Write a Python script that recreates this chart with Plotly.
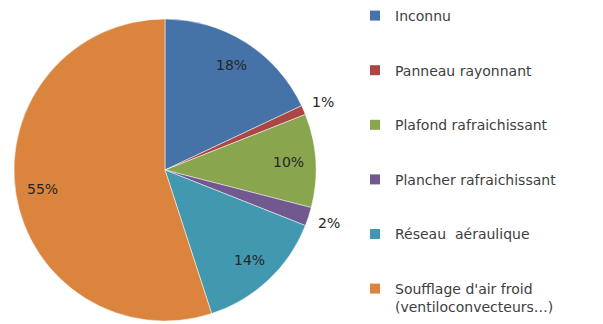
import math
import plotly.graph_objects as go

# Répartition des systèmes de rafraîchissement
categories = [
    "Inconnu",
    "Panneau rayonnant",
    "Plafond rafraichissant",
    "Plancher rafraichissant",
    "Réseau  aéraulique",
    "Soufflage d'air froid<br>(ventiloconvecteurs…)",
]
shares = [18, 1, 10, 2, 14, 55]
colors = ["#4572A7", "#AA4643", "#89A54E", "#71588F", "#4198AF", "#DB843D"]
label_outside = [False, True, False, True, False, False]

FONT = "DejaVu Sans"
W, H = 603, 324

# pie placement in pixels
dom_x = (14, 316)
dom_y = (3, 305)  # from bottom
cx = (dom_x[0] + dom_x[1]) / 2
cy = (dom_y[0] + dom_y[1]) / 2
R = (dom_x[1] - dom_x[0]) / 2

fig = go.Figure()
fig.add_trace(go.Pie(
    labels=categories,
    values=shares,
    sort=False,
    direction="clockwise",
    rotation=0,
    marker=dict(colors=colors, line=dict(color="white", width=0.5)),
    textinfo="none",
    hoverinfo="label+percent",
    showlegend=False,
    domain=dict(x=[dom_x[0] / W, dom_x[1] / W], y=[dom_y[0] / H, dom_y[1] / H]),
))

# percentage labels placed at each slice's mid-angle
total = sum(shares)
cum = 0
for v, outside in zip(shares, label_outside):
    mid = (cum + v / 2) / total * 2 * math.pi
    cum += v
    r = R * (1.14 if outside else 0.82)
    px = cx + r * math.sin(mid)
    py = cy + r * math.cos(mid)
    fig.add_annotation(
        x=px / W, y=py / H, xref="paper", yref="paper",
        xanchor="center", yanchor="middle",
        text=f"{round(v / total * 100)}%", showarrow=False,
        font=dict(family=FONT, size=14, color="#262626"),
    )

# Legend entries, one group each so they can be spaced out
for name, col in zip(categories, colors):
    fig.add_trace(go.Scatter(
        x=[None], y=[None], mode="markers", name=name, legendgroup=name,
        marker=dict(symbol="square", size=10, color=col),
    ))

fig.update_layout(
    width=W, height=H,
    margin=dict(l=0, r=0, t=0, b=0),
    paper_bgcolor="white", plot_bgcolor="white",
    xaxis=dict(visible=False), yaxis=dict(visible=False),
    legend=dict(
        x=355 / W, y=1, xanchor="left", yanchor="top",
        font=dict(family=FONT, size=14, color="#404040"),
        tracegroupgap=33.4, valign="top", itemwidth=30,
        bgcolor="rgba(0,0,0,0)",
    ),
)

fig.write_html("out.html")
